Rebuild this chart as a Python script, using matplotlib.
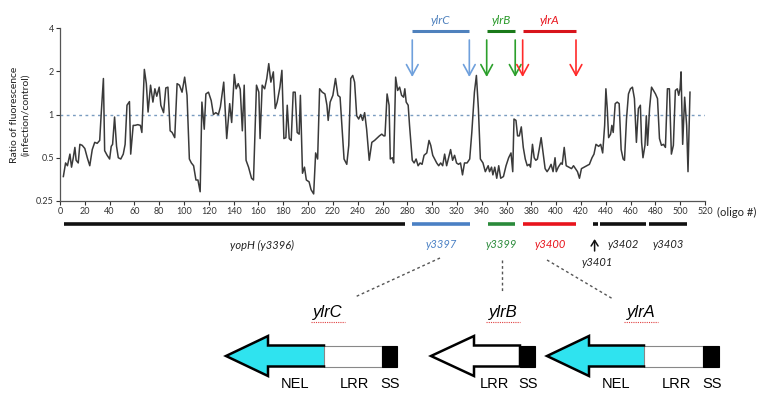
import matplotlib
matplotlib.use('Agg')
import matplotlib.pyplot as plt
from matplotlib.transforms import blended_transform_factory
from matplotlib.patches import Polygon, Rectangle

plt.rcParams['font.family'] = ['Lato', 'DejaVu Sans']

# ratio of fluorescence (infection/control) per oligo
oligo = [2.7, 4.5, 6, 8, 9.3, 10.7, 12, 13, 14.7, 16, 17.9, 20, 22, 24, 26, 28, 30, 32, 33.3, 35,
         36, 38, 40, 41.3, 42.4, 44, 45.6, 47, 49, 51, 52.5, 54, 56, 57, 59, 60.5, 62.7, 64.8, 66, 68,
         69.6, 71, 73, 74.9, 76.5, 78, 80, 81.3, 83.5, 85.3, 87, 88.8, 90.4, 92.5, 94.4, 96.3, 98.4, 100.5,
         102.4, 104.3, 105.9, 107.7, 109.6, 111.2, 113, 114.4, 116.3, 117.6, 119.7, 121.9, 123.7, 125.6,
         127.7, 129.3, 132, 134.4, 136.8, 138.4, 140.5, 142, 143.7, 145.3, 147, 148.5, 150, 152, 154.4,
         156, 158.4, 160.3, 161.3, 163, 165, 166.7, 168.3, 170, 172, 173.5, 175.1, 177.3, 178.9, 180.5,
         182.1, 183.2, 184.8, 186.4, 188, 189.6, 191.2, 192.8, 193.8, 195.5, 197.1, 198.6, 200.8, 202.4,
         204.5, 206.1, 207.7, 209.3, 211.4, 213.6, 215.2, 216.2, 217.8, 220, 222.1, 224, 225.8, 227.5,
         229, 231.2, 232.8, 234.4, 236, 237.5, 239.2, 240.8, 242.4, 244, 245.6, 247.2, 249.3, 251.4,
         253.6, 257.5, 259.4, 261, 262, 263.7, 265.3, 266.3, 268, 269, 270.6, 272.2, 273.8, 275.4, 277,
         278, 279.1, 280.7, 281.8, 284, 285.5, 287.1, 288.7, 290.3, 291.9, 293.5, 295.7, 297.5, 298.9,
         300.5, 302.1, 303.7, 305.3, 306.9, 308.5, 310.1, 311.7, 313.3, 314.9, 316.5, 318.1, 319.7,
         321.3, 322.9, 324.5, 326.1, 328.2, 330.3, 332, 334.1, 335.7, 337.3, 338.9, 341, 342.9, 345.2,
         346.3, 347.9, 349, 350.5, 352.1, 353.7, 355.3, 357.5, 359.6, 361.7, 363.6, 365, 366, 367.6,
         368.9, 370.3, 371.9, 373.5, 375.1, 376.7, 378.3, 379.3, 380.9, 382.3, 383.6, 384.9, 386.3,
         387.9, 389.5, 391.1, 392.7, 394.3, 395.9, 397.5, 399.1, 400.1, 401.7, 403.9, 404.9, 406.5,
         408.1, 410.3, 412.4, 414, 415.6, 417.2, 418.8, 420.4, 422.5, 424.7, 426.8, 428.9, 430.5, 432.1,
         434.3, 435.9, 437.5, 439.1, 440.1, 441.2, 442.3, 443.9, 444.9, 446, 447.6, 449.2, 450.8, 452.4,
         454, 455.1, 456.7, 458.3, 459.9, 461.5, 463.1, 464.7, 466.3, 467.9, 468.9, 470, 471.6, 472.7,
         473.7, 475.3, 476.9, 478.5, 480.1, 481.7, 483.3, 484.9, 486.5, 488.1, 489.7, 491.3, 492.9,
         494.5, 496.1, 497.7, 498.8, 499.9, 500.7, 502, 503.6, 505.2, 506.3, 507.9]
ratio = [0.37, 0.46, 0.44, 0.53, 0.43, 0.5, 0.59, 0.48, 0.46, 0.62, 0.61, 0.58, 0.5, 0.44, 0.57, 0.64, 0.63, 0.66, 1.04, 1.78,
         0.56, 0.52, 0.49, 0.6, 0.62, 0.96, 0.6, 0.5, 0.49, 0.53, 0.62, 1.16, 1.23, 0.53, 0.84, 0.84, 0.85, 0.84, 0.75, 2.06,
         1.64, 1.04, 1.6, 1.22, 1.51, 1.34, 1.55, 1.16, 1.03, 1.53, 1.55, 0.77, 0.75, 0.69, 1.64, 1.6, 1.43, 1.82,
         1.36, 0.49, 0.46, 0.44, 0.35, 0.35, 0.29, 1.22, 0.79, 1.39, 1.43, 1.25, 1.0, 1.03,
         1.0, 1.13, 1.68, 0.68, 1.19, 0.88, 1.9, 1.51, 1.64, 1.5, 0.77, 1.6, 0.48, 0.43, 0.36,
         0.35, 1.6, 1.43, 0.68, 1.6, 1.51, 1.78, 2.26, 1.68, 1.98, 1.1, 1.22, 1.55, 2.03, 0.68,
         0.69, 1.16, 0.68, 0.66, 1.43, 1.43, 0.75, 0.73, 1.36, 0.39, 0.43, 0.35, 0.34, 0.3,
         0.28, 0.54, 0.49, 1.51, 1.43, 1.39, 1.16, 0.91, 1.22, 1.36, 1.78, 1.36, 1.32, 0.79,
         0.49, 0.45, 0.61, 1.78, 1.87, 1.68, 0.98, 0.93, 1.0, 0.91, 1.03, 0.79, 0.48, 0.64,
         0.66, 0.71, 0.73, 0.71, 0.71, 1.39, 1.16, 0.49, 0.5, 0.46, 1.82, 1.47, 1.55, 1.36, 1.32,
         1.51, 1.22, 1.16, 0.84, 0.48, 0.46, 0.49, 0.44, 0.46, 0.45, 0.52, 0.54, 0.66, 0.61,
         0.52, 0.49, 0.46, 0.44, 0.46, 0.44, 0.53, 0.44, 0.5, 0.57, 0.48, 0.52, 0.46,
         0.45, 0.46, 0.38, 0.46, 0.46, 0.49, 0.75, 1.43, 1.87, 1.1, 0.49, 0.46, 0.4, 0.44,
         0.4, 0.43, 0.38, 0.43, 0.36, 0.44, 0.36, 0.37, 0.44, 0.5, 0.54, 0.4, 0.93, 0.91,
         0.71, 0.71, 0.82, 0.59, 0.49, 0.44, 0.45, 0.43, 0.62, 0.5, 0.48, 0.49, 0.57,
         0.69, 0.54, 0.42, 0.4, 0.42, 0.45, 0.4, 0.5, 0.4, 0.43, 0.46, 0.45, 0.59,
         0.44, 0.43, 0.42, 0.44, 0.42, 0.4, 0.36, 0.42, 0.43, 0.44, 0.45, 0.5, 0.53, 0.62,
         0.6, 0.62, 0.54, 0.84, 1.51, 1.1, 0.69, 0.73, 0.84, 0.75, 1.19, 1.22, 1.19, 0.57,
         0.49, 0.48, 0.93, 1.39, 1.51, 1.55, 1.29, 0.64, 1.1, 1.16, 0.64, 0.5, 0.61, 0.98,
         0.61, 1.1, 1.55, 1.47, 1.39, 1.29, 0.68, 0.61, 0.62, 0.59, 1.51, 1.51, 0.53,
         0.61, 1.47, 1.51, 1.36, 1.51, 1.98, 0.62, 1.32, 0.84, 0.4, 1.43]

# genes along the oligo axis (start, end)
gene_names = ['yopH (y3396)', 'y3397', 'y3399', 'y3400', '', 'y3402', 'y3403']
gene_start = [3, 284, 345, 373, 430, 435.5, 475]
gene_end = [278, 330.5, 367, 416, 434, 472.5, 505.5]
gene_label_x = [163, 307, 356, 395, 433, 454, 490]
gene_colors = ['#111111', '#4a80c4', '#2a8a3a', '#e8141c', '#111111', '#111111', '#111111']

# ylr loci marked above the trace
ylr_names = ['ylrC', 'ylrB', 'ylrA']
ylr_start = [284, 344, 373]
ylr_end = [330, 367, 416]
ylr_bar_colors = ['#4f81bd', '#1a7a1a', '#d8141c']
ylr_arrow_colors = ['#6fa0dc', '#2ca02c', '#ff2a2a']
ylr_text_colors = ['#4f81bd', '#2a9a2a', '#e8141c']

fig = plt.figure(figsize=(7.65, 3.95), dpi=100)
W, H = 765, 395
ax = fig.add_axes([60 / W, 1 - 201 / H, 645 / W, 173 / H])
ov = fig.add_axes([0, 0, 1, 1], zorder=-1)
ov.set_xlim(0, W)
ov.set_ylim(H, 0)
ov.axis('off')

ax.plot(oligo, ratio, color='#3a3a3a', lw=1.1, zorder=3)
ax.axhline(1, color='#7a9cc0', lw=1, ls=(0, (2, 2.5)), zorder=2)

ax.set_yscale('log', base=2)
ax.set_ylim(0.25, 4)
ax.set_xlim(0, 520)
ax.set_yticks([0.25, 0.5, 1, 2, 4])
ax.set_yticklabels(['0.25', '0.5', '1', '2', '4'])
ax.yaxis.set_minor_locator(plt.NullLocator())
ax.set_xticks(range(0, 521, 20))
ax.tick_params(labelsize=6.5, length=3, width=0.8, pad=1.5, colors='#333333')
for s in ['top', 'right']:
    ax.spines[s].set_visible(False)
for s in ['left', 'bottom']:
    ax.spines[s].set_color('#555555')
    ax.spines[s].set_linewidth(0.9)
ax.patch.set_alpha(0)
ax.set_ylabel('Ratio of fluorescence\n(infection/control)', fontsize=7.5, labelpad=4,
              linespacing=1.35, color='#222222')
ax.text(1.018, -0.035, '(oligo #)', transform=ax.transAxes, ha='left', va='top',
        fontsize=8, color='#222222')

# blended: x in oligo units, y in figure pixels (from top)
bt = blended_transform_factory(ax.transData, ov.transData)

for name, x0, x1, cb, ca, ct in zip(ylr_names, ylr_start, ylr_end,
                                     ylr_bar_colors, ylr_arrow_colors, ylr_text_colors):
    ax.plot([x0, x1], [31, 31], transform=bt, color=cb, lw=2.2, clip_on=False,
            solid_capstyle='butt')
    for xx in (x0, x1):
        ax.annotate('', xy=(xx, 77), xytext=(xx, 40), xycoords=bt, textcoords=bt,
                    arrowprops=dict(arrowstyle='->,head_length=0.55,head_width=0.3',
                                    color=ca, lw=1.2, mutation_scale=14,
                                    shrinkA=0, shrinkB=0),
                    annotation_clip=False)
    ax.text((x0 + x1) / 2, 20, name, transform=bt, ha='center', va='center',
            fontsize=8.5, style='italic', color=ct)

# gene bars under the axis
for name, x0, x1, lx, c in zip(gene_names, gene_start, gene_end, gene_label_x, gene_colors):
    ax.plot([x0, x1], [224, 224], transform=bt, color=c, lw=2.6, clip_on=False,
            solid_capstyle='butt')
    if name:
        ax.text(lx, 245, name, transform=bt, ha='center', va='center', fontsize=8,
                style='italic', color=c if c != '#111111' else '#222222')
ax.annotate('', xy=(431, 239), xytext=(431, 251), xycoords=bt, textcoords=bt,
            arrowprops=dict(arrowstyle='->,head_length=0.4,head_width=0.25', color='#111111',
                            lw=1.1, mutation_scale=10, shrinkA=0, shrinkB=0),
            annotation_clip=False)
ax.text(433, 262, 'y3401', transform=bt, ha='center', va='center', fontsize=8,
        style='italic', color='#222222')

# dashed connectors to the gene diagrams
for (xa, ya), (xb, yb) in [((440, 258), (355, 297)), ((502, 260), (502, 292)),
                           ((547, 260), (613, 299))]:
    ov.plot([xa, xb], [ya, yb], color='#555555', lw=1, ls=(0, (2, 2)))

# gene diagrams: tip, head base, cyan end, LRR end, SS end
yc, hh, sh = 356, 20, 10.5
diagrams = [('ylrC', 328, 226, 268, 324, 382, 397, [('NEL', 295), ('LRR', 354), ('SS', 390)]),
            ('ylrB', 503, 431, 474, None, 520, 535, [('LRR', 494), ('SS', 528)]),
            ('ylrA', 641, 547, 589, 644, 703, 719, [('NEL', 616), ('LRR', 676), ('SS', 712)])]
for name, tx, xt, xb, xc, xl, xe, labels in diagrams:
    if xc is not None:
        head = [(xt, yc), (xb, yc - hh), (xb, yc - sh), (xc, yc - sh), (xc, yc + sh),
                (xb, yc + sh), (xb, yc + hh)]
        ov.add_patch(Polygon(head, closed=True, facecolor='#2fe3ef', edgecolor='none'))
        ov.plot([xc, xb, xb, xt, xb, xb, xc],
                [yc - sh, yc - sh, yc - hh, yc, yc + hh, yc + sh, yc + sh],
                color='black', lw=1.8, solid_joinstyle='miter')
        ov.add_patch(Rectangle((xc, yc - sh), xl - xc, 2 * sh, facecolor='white',
                               edgecolor='#888888', lw=0.8))
    else:
        body = [(xt, yc), (xb, yc - hh), (xb, yc - sh), (xl, yc - sh), (xl, yc + sh),
                (xb, yc + sh), (xb, yc + hh)]
        ov.add_patch(Polygon(body, closed=True, facecolor='white', edgecolor='black',
                             lw=1.8, joinstyle='miter'))
    ov.add_patch(Rectangle((xl, yc - sh), xe - xl, 2 * sh, facecolor='black',
                           edgecolor='black', lw=0.8))
    ov.text(tx, 313, name, ha='center', va='center', fontsize=12, style='italic',
            family=['Liberation Sans', 'DejaVu Sans'])
    ov.plot([tx - 17, tx + 17], [322, 322], color='#e04040', lw=0.8, ls=(0, (1, 1)))
    for lab, lx in labels:
        ov.text(lx, 384, lab, ha='center', va='center', fontsize=10.5,
                family=['Liberation Sans', 'DejaVu Sans'])

fig.savefig('out.png', dpi=100)
